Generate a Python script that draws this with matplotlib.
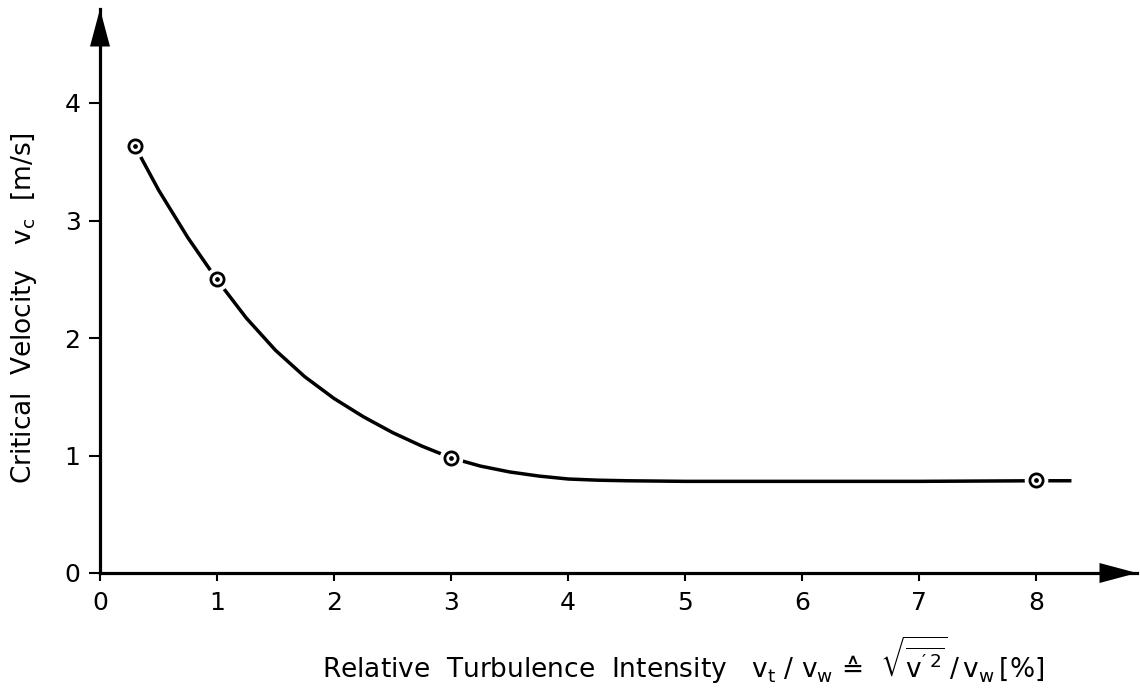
import matplotlib
matplotlib.use("Agg")
import matplotlib.pyplot as plt

turb = [0.3, 1.0, 3.0, 8.0]
v_crit = [3.63, 2.50, 0.98, 0.79]

# hand-drawn fit curve
curve_x = [0.3, 0.5, 0.75, 1.0, 1.25, 1.5, 1.75, 2.0, 2.25, 2.5, 2.75, 3.0,
           3.25, 3.5, 3.75, 4.0, 4.25, 4.5, 5.0, 6.0, 7.0, 8.0, 8.3]
curve_y = [3.63, 3.26, 2.855, 2.495, 2.17, 1.895, 1.67, 1.485, 1.33, 1.195, 1.08, 0.98,
           0.91, 0.86, 0.825, 0.80, 0.79, 0.785, 0.78, 0.78, 0.78, 0.785, 0.785]

x_ticks = [0, 1, 2, 3, 4, 5, 6, 7, 8]
y_ticks = [0, 1, 2, 3, 4]

font_size = 19
tick_font_size = 18
line_width = 2.3
plt.rcParams["font.family"] = "DejaVu Sans"
plt.rcParams["mathtext.fontset"] = "dejavusans"

fig = plt.figure(figsize=(11.4, 6.91), dpi=100)
ax = fig.add_axes([100 / 1140, 118 / 691, 1037 / 1140, 564 / 691])
ax.set_xlim(0, 8.86)
ax.set_ylim(0, 4.8)

# axes look: only left and bottom, with arrowheads
for side in ["top", "right"]:
    ax.spines[side].set_visible(False)
for side in ["left", "bottom"]:
    ax.spines[side].set_linewidth(line_width)
arrow_style = "-|>,head_length=1.35,head_width=0.36"
ax.annotate("", xy=(1.0, 0), xytext=(0.95, 0), xycoords="axes fraction",
            arrowprops=dict(arrowstyle=arrow_style, mutation_scale=20, color="black",
                            lw=0, shrinkA=0, shrinkB=0),
            annotation_clip=False)
ax.annotate("", xy=(0, 1.0), xytext=(0, 0.92), xycoords="axes fraction",
            arrowprops=dict(arrowstyle=arrow_style, mutation_scale=20, color="black",
                            lw=0, shrinkA=0, shrinkB=0),
            annotation_clip=False)

ax.set_xticks(x_ticks)
ax.set_yticks(y_ticks)
ax.tick_params(axis="x", direction="out", length=6, width=1.5, pad=7, labelsize=tick_font_size)
ax.tick_params(axis="y", direction="out", length=8, width=1.5, pad=6, labelsize=tick_font_size)

# curve with gaps around the markers
ax.plot(curve_x, curve_y, color="black", linewidth=2.5, zorder=2, clip_on=False,
        solid_joinstyle="round", solid_capstyle="butt")
ax.plot(turb, v_crit, linestyle="none", marker="o", markersize=16,
        markerfacecolor="white", markeredgecolor="white", zorder=3, clip_on=False)
ax.plot(turb, v_crit, linestyle="none", marker="o", markersize=9.5,
        markerfacecolor="white", markeredgecolor="black", markeredgewidth=2.0,
        zorder=4, clip_on=False)
ax.plot(turb, v_crit, linestyle="none", marker="o", markersize=2.4,
        color="black", zorder=5, clip_on=False)

fig.text(24 / 1140, 1 - 308 / 691,
         r"Critical  Velocity   $\mathregular{v_c}$  [m/s]",
         rotation=90, ha="center", va="center", fontsize=font_size)
fig.text(683 / 1140, 1 - 660 / 691,
         "Relative  Turbulence  Intensity   "
         r"$\mathregular{v_t\ /\ v_w}$ ≙  "
         r"$\mathregular{\sqrt{\overline{v'^{\,2}}}\,/\,v_w\,[\%]}$",
         ha="center", va="center", fontsize=font_size)

fig.savefig("out.png", dpi=100)
